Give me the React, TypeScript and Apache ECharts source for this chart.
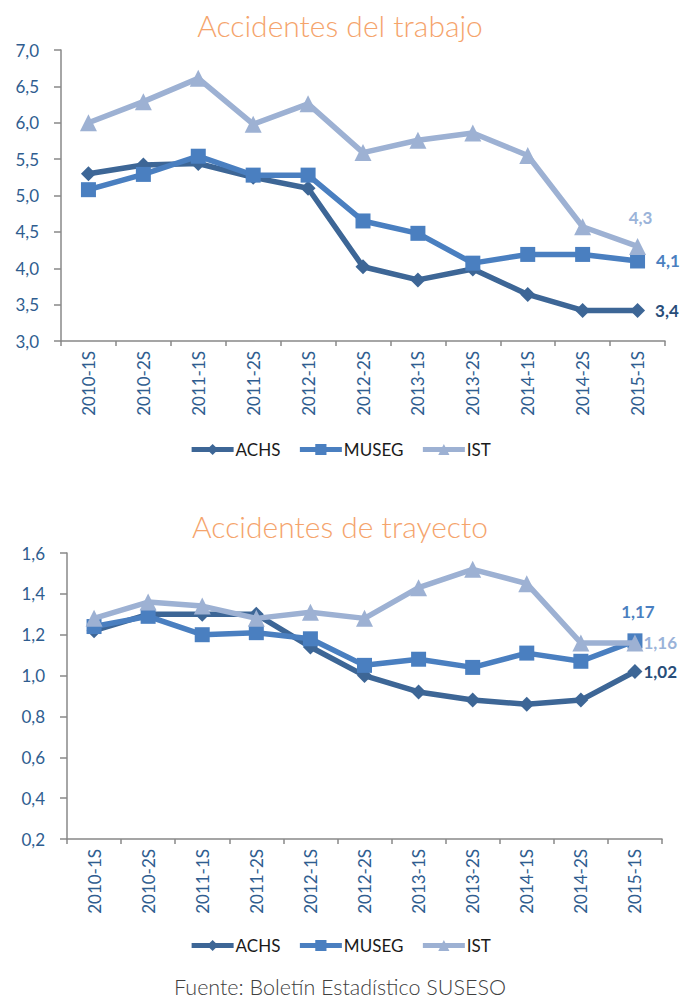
import React, { useEffect, useRef } from "react";
import * as echarts from "echarts";

const categories = ["2010-1S", "2010-2S", "2011-1S", "2011-2S", "2012-1S", "2012-2S", "2013-1S", "2013-2S", "2014-1S", "2014-2S", "2015-1S"];
const seriesNames = ["ACHS", "MUSEG", "IST"];

const trabajoACHS = [5.3, 5.42, 5.44, 5.25, 5.1, 4.02, 3.84, 3.99, 3.64, 3.42, 3.42];
const trabajoMUSEG = [5.08, 5.29, 5.54, 5.28, 5.28, 4.65, 4.48, 4.07, 4.19, 4.19, 4.1];
const trabajoIST = [6.0, 6.29, 6.61, 5.98, 6.26, 5.59, 5.76, 5.86, 5.55, 4.57, 4.3];

const trayectoACHS = [1.22, 1.3, 1.3, 1.3, 1.14, 1.0, 0.92, 0.88, 0.86, 0.88, 1.02];
const trayectoMUSEG = [1.24, 1.29, 1.2, 1.21, 1.18, 1.05, 1.08, 1.04, 1.11, 1.07, 1.17];
const trayectoIST = [1.28, 1.36, 1.34, 1.28, 1.31, 1.28, 1.43, 1.52, 1.45, 1.16, 1.16];

const titles = ["Accidentes del trabajo", "Accidentes de trayecto"];
const footer = "Fuente: Boletín Estadístico SUSESO";

const colors = ["#3D6696", "#4A7FC0", "#9DB1D3"];
const labelColors = ["#284D79", "#4A7FC0", "#9AB3D9"];
const symbols = ["diamond", "rect", "triangle"];
const symbolSizes = [15, 15, 17];
const FONT = "Lato, 'Noto Sans', sans-serif";
const AXIS_TEXT = "#2F5D8F";

export default function App() {
  const ref = useRef<HTMLDivElement>(null);
  useEffect(() => {
    const chart = echarts.init(ref.current!, null, { renderer: "svg" });
    const trabajo = [trabajoACHS, trabajoMUSEG, trabajoIST];
    const trayecto = [trayectoACHS, trayectoMUSEG, trayectoIST];
    const endLabelPos1 = [
      { position: "right", distance: 10, offset: [0, 0] },
      { position: "right", distance: 11, offset: [0, 0] },
      { position: "top", distance: 12, offset: [3, 0] },
    ];
    const endLabelPos2 = [
      { position: "right", distance: 1, offset: [0, 0] },
      { position: "top", distance: 13, offset: [3, 0] },
      { position: "right", distance: 0, offset: [0, 0] },
    ];
    const makeSeries = (data: number[][], idx: number, decimals: number, posArr: any[]) =>
      data.map((vals, i) => ({
        name: seriesNames[i],
        type: "line",
        xAxisIndex: idx,
        yAxisIndex: idx,
        symbol: symbols[i],
        symbolSize: symbolSizes[i],
        lineStyle: { width: 5.5, color: colors[i] },
        itemStyle: { color: colors[i] },
        data: vals.map((v, j) =>
          j === vals.length - 1
            ? {
                value: v,
                label: {
                  show: true,
                  position: posArr[i].position,
                  distance: posArr[i].distance,
                  offset: posArr[i].offset,
                  formatter: () => v.toFixed(decimals).replace(".", ","),
                  color: labelColors[i],
                  fontWeight: "bold",
                  fontSize: 17,
                  fontFamily: FONT,
                },
              }
            : v
        ),
        z: 2 + i,
      }));

    const xAxisBase = {
      type: "category",
      data: categories,
      boundaryGap: true,
      axisLine: { lineStyle: { color: "#888888", width: 1.5 } },
      axisTick: { show: true, length: 5, lineStyle: { color: "#888888", width: 1.5 } },
      axisLabel: { rotate: 90, color: AXIS_TEXT, fontSize: 17, fontFamily: FONT, margin: 10 },
    };
    const yAxisBase = {
      type: "value",
      axisLine: { show: true, lineStyle: { color: "#888888", width: 1.5 } },
      axisTick: { show: true, length: 7, lineStyle: { color: "#888888", width: 1.5 } },
      splitLine: { show: false },
      axisLabel: { color: AXIS_TEXT, fontSize: 17, fontFamily: FONT, margin: 22 },
    };
    const legendBase = {
      data: seriesNames,
      left: "center",
      itemWidth: 42,
      itemHeight: 14,
      itemGap: 17,
      lineStyle: { width: 5 },
      textStyle: { color: "#1a1a1a", fontSize: 17, fontFamily: FONT, padding: [0, 0, 0, -3] },
    };

    chart.setOption({
      animation: false,
      backgroundColor: "#ffffff",
      title: [
        {
          text: titles[0],
          left: "center",
          top: 5,
          textStyle: { color: "#F5A46C", fontSize: 30, fontWeight: 300, fontFamily: FONT },
        },
        {
          text: titles[1],
          left: "center",
          top: 506,
          textStyle: { color: "#F5A46C", fontSize: 30, fontWeight: 300, fontFamily: FONT },
        },
      ],
      legend: [
        { ...legendBase, top: 436 },
        { ...legendBase, top: 932 },
      ],
      grid: [
        { left: 61, right: 15, top: 50, height: 291 },
        { left: 67, right: 18, top: 553, height: 286 },
      ],
      xAxis: [
        { ...xAxisBase, gridIndex: 0 },
        { ...xAxisBase, gridIndex: 1 },
      ],
      yAxis: [
        {
          ...yAxisBase,
          gridIndex: 0,
          min: 3,
          max: 7,
          interval: 0.5,
          axisLabel: { ...yAxisBase.axisLabel, formatter: (v: number) => v.toFixed(1).replace(".", ",") },
        },
        {
          ...yAxisBase,
          gridIndex: 1,
          min: 0.2,
          max: 1.6,
          interval: 0.2,
          axisLabel: { ...yAxisBase.axisLabel, formatter: (v: number) => v.toFixed(1).replace(".", ",") },
        },
      ],
      graphic: [
        {
          type: "text",
          left: "center",
          top: 976,
          style: { text: footer, fill: "#404040", fontSize: 21.5, fontWeight: 300, fontFamily: FONT },
        },
      ],
      series: [...makeSeries(trabajo, 0, 1, endLabelPos1), ...makeSeries(trayecto, 1, 2, endLabelPos2)],
    });
    return () => chart.dispose();
  }, []);
  return <div ref={ref} style={{ position: "absolute", left: 0, top: 0, width: 680, height: 1000 }} />;
}
